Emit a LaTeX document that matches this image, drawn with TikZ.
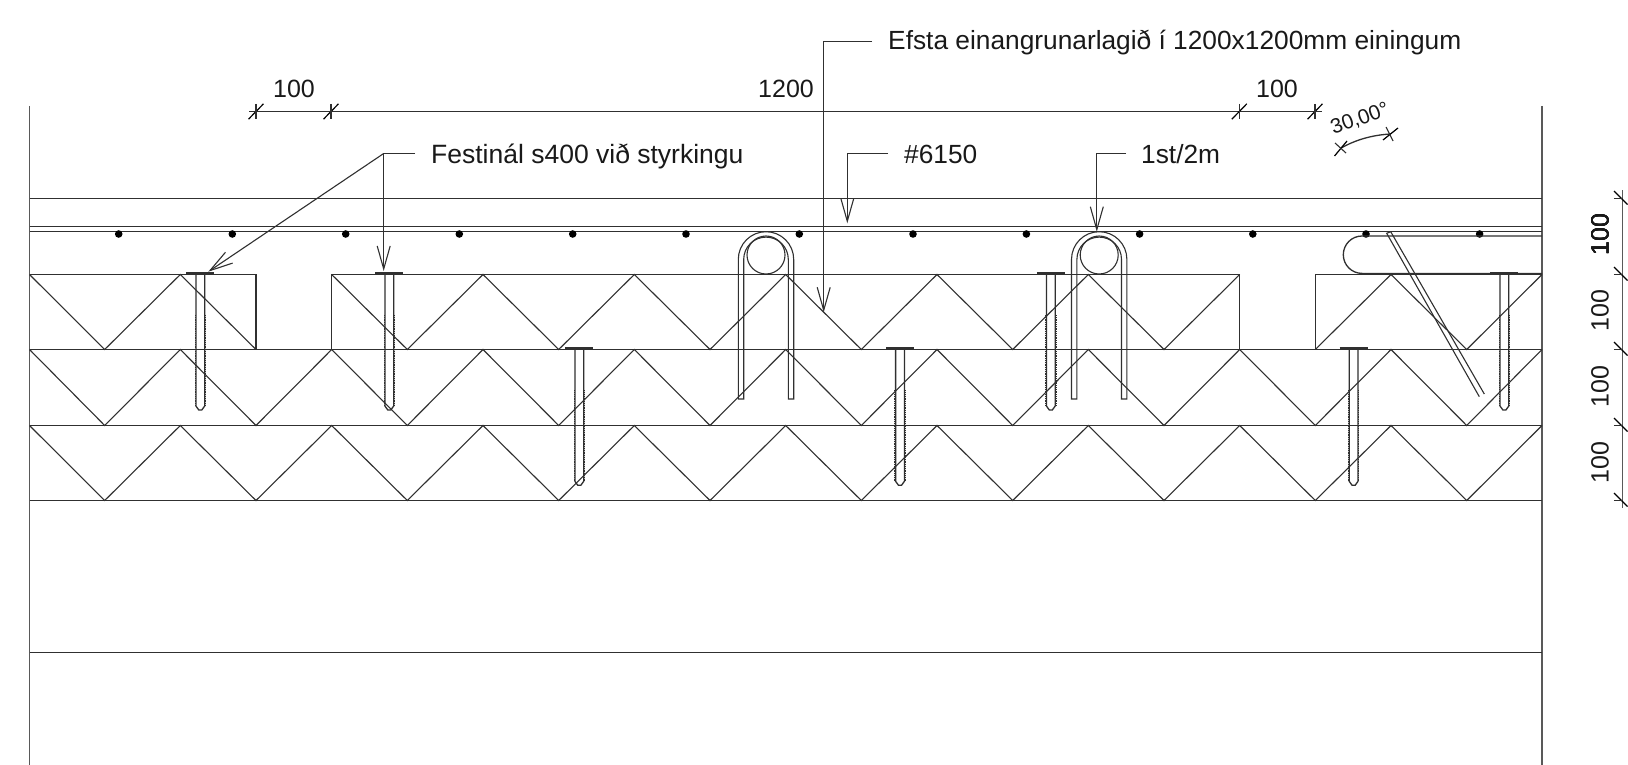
\documentclass[tikz,border=0pt]{standalone}
\usepackage{fontspec}
\setmainfont{Liberation Sans}
\usetikzlibrary{arrows.meta}
\definecolor{ink}{HTML}{303030}
\tikzset{
  x=1pt,y=-1pt,
  ln/.style={draw=ink,line width=1.3pt},
  wall/.style={draw=ink!80,line width=1.8pt},
  thin/.style={draw=ink,line width=1.1pt},
  lead/.style={draw=ink,line width=1.1pt,-{Straight Barb[length=23pt,width=13pt,line width=1.1pt]}},
  leadn/.style={draw=ink,line width=1.1pt},
  lbl/.style={inner sep=0pt,font=\fontsize{25}{25}\selectfont,text=black!90},
  lblw/.style={inner sep=0pt,anchor=west,font=\fontsize{26.3}{26.3}\selectfont,text=black!90},
  dot/.style={circle,fill=black,inner sep=0pt,minimum size=7.6pt},
  tick/.style={draw=black,line width=1.2pt},
  thread/.style={draw=ink,line width=1pt,dash pattern=on 0.9pt off 0.9pt},
}
\newcommand{\fastener}[2]{%
  \draw[line width=2.4pt,draw=ink] (#1-14,#2) -- (#1+14,#2);
  \draw[ln] (#1-4.4,#2) -- (#1-4.4,#2+133) -- (#1-1.5,#2+137) -- (#1+1.5,#2+137) -- (#1+4.4,#2+133) -- (#1+4.4,#2);
  \draw[thread] (#1-5.2,#2+42) -- (#1-5.2,#2+133);
  \draw[thread] (#1+5.2,#2+42) -- (#1+5.2,#2+133);
}
\newcommand{\hairpin}[1]{%
  \draw[thin] (#1-27.7,399) -- (#1-27.7,259.4) arc[start angle=180,end angle=360,radius=27.7] -- (#1+27.7,399) -- (#1+22.3,399) -- (#1+22.3,259.4) arc[start angle=360,end angle=180,radius=22.3] -- (#1-22.3,399) -- cycle;
  \draw[thin] (#1,255) circle[radius=19];
}
\newcommand{\dimtick}[2]{%
  \draw[tick] (#1-7.5,#2+7.7) -- (#1+7.5,#2-7.7);
  \draw[thin] (#1,#2-7.7) -- (#1,#2+7.7);
}
\newcommand{\vtick}[2]{%
  \draw[tick] (#1-7.5,#2-7.5) -- (#1+6,#2+6);
  \draw[thin] (#1-7.7,#2) -- (#1,#2);
}
\begin{document}
\begin{tikzpicture}
\useasboundingbox (0,0) rectangle (1628,765);
\fill[white] (0,0) rectangle (1628,765);
% walls and horizontal layers
\draw[wall] (29.5,106) -- (29.5,765);
\draw[wall] (1542,106) -- (1542,765);
\foreach \yy in {198.5,226.5,231.5,349.5,425.5,500.5,652.5}
  \draw[ln] (29.5,\yy) -- (1542,\yy);
% top insulation edges
\draw[ln] (29.5,274.5) -- (256,274.5) -- (256,349.5);
\draw[ln] (331.7,349.5) -- (331.7,274.5) -- (1239.7,274.5) -- (1239.7,349.5);
\draw[ln] (1315.3,349.5) -- (1315.3,274.5) -- (1542,274.5);
\draw[line width=1.8pt,draw=ink] (256,349.5) -- (331.7,349.5);
\draw[line width=1.8pt,draw=ink] (1239.7,349.5) -- (1315.3,349.5);
% zigzag hatch
\draw[thin] (29.5,274.5) -- (104.7,349.5) -- (180.3,274.5) -- (256,349.5);
\draw[thin] (331.7,274.5) -- (407.3,349.5) -- (483,274.5) -- (558.7,349.5) -- (634.3,274.5) -- (710,349.5) -- (785.7,274.5) -- (861.3,349.5) -- (937,274.5) -- (1012.7,349.5) -- (1088.3,274.5) -- (1164,349.5) -- (1239.7,274.5);
\draw[thin] (1315.3,349.5) -- (1391,274.5) -- (1466.7,349.5) -- (1542,274.5);
\foreach \yy/\yb in {349.5/425.5,425.5/500.5}
  \draw[thin] (29.5,\yy) -- (104.7,\yb) -- (180.3,\yy) -- (256,\yb) -- (331.7,\yy) -- (407.3,\yb) -- (483,\yy) -- (558.7,\yb) -- (634.3,\yy) -- (710,\yb) -- (785.7,\yy) -- (861.3,\yb) -- (937,\yy) -- (1012.7,\yb) -- (1088.3,\yy) -- (1164,\yb) -- (1239.7,\yy) -- (1315.3,\yb) -- (1391,\yy) -- (1466.7,\yb) -- (1542,\yy);
% rebar dots
\foreach \xx [count=\i] in {118.7,232.3,345.7,459.3,572.7,686,799.3,913,1026.4,1139.6,1252.8,1366,1479.6}
  \node[dot] (d\i) at (\xx,234) {};
% hairpins
\hairpin{766}
\hairpin{1099.2}
% bent slab bar
\draw[ln] (1542,236) -- (1362,236) arc[start angle=270,end angle=90,radius=18.7] -- (1542,273.4);
\draw[line width=1.7pt,draw=ink] (1362,273.4) -- (1542,273.4);
% strut
\draw[thin] (1390.7,231.7) -- (1386.7,233.3) -- (1479.3,396.7);
\draw[thin] (1390.7,231.7) -- (1484.3,394);
% fasteners
\fastener{200.3}{273}
\fastener{389.3}{273}
\fastener{579.3}{348.3}
\fastener{900}{348.3}
\fastener{1050.8}{273}
\fastener{1353.6}{348.3}
\fastener{1504.4}{273}
% labels and leaders
\node[lblw] (efsta) at (888,42.5) {Efsta einangrunarlagið í 1200x1200mm einingum};
\coordinate (efstaK) at (823.7,41.5);
\coordinate (efstaT) at (823.7,312.3);
\draw[leadn] (872,41.5) -- (efstaK);
\draw[lead] (efstaK) -- (efstaT);
\node[lblw,font=\fontsize{26.5}{26.5}\selectfont] (fest) at (431,156) {Festinál s400 við styrkingu};
\coordinate (festK) at (383.7,153.5);
\coordinate (festT) at (208.3,271.7);
\coordinate (festU) at (383.7,271);
\draw[leadn] (415,153.5) -- (festK);
\draw[lead] (festK) -- (festT);
\draw[lead] (festK) -- (festU);
\node[lblw] (mesh) at (904,154) {\#6150};
\coordinate (meshK) at (847.3,153.5);
\coordinate (meshT) at (847.3,223.3);
\draw[leadn] (888,153.5) -- (meshK);
\draw[lead] (meshK) -- (meshT);
\node[lblw] (st) at (1141,154) {1st/2m};
\coordinate (stK) at (1096.8,153.5);
\coordinate (stT) at (1096.8,231.7);
\draw[leadn] (1126,153.5) -- (stK);
\draw[lead] (stK) -- (stT);
% top dimension
\draw[thin] (249,111.5) -- (1322,111.5);
\dimtick{256}{111.5}
\dimtick{331}{111.5}
\dimtick{1239.3}{111.5}
\dimtick{1315}{111.5}
\node[lbl] (da) at (294,89) {100};
\node[lbl] (db) at (786,89) {1200};
\node[lbl] (dc) at (1277,89) {100};
% angle
\coordinate (angA) at (1340.7,148.3);
\coordinate (angB) at (1390.7,134);
\draw[ln] (angA) .. controls (1355,140) and (1372,135) .. (angB);
\draw[tick] (1334.5,156) -- (1347,141);
\draw[thin] (1335,143) -- (1346,153);
\draw[tick] (1383,140) -- (1398,128);
\draw[thin] (1386,127) -- (1393,141);
\node[inner sep=0pt,rotate=20,text=black!90,font=\fontsize{20.8}{20.8}\selectfont] (ang) at (1360,119) {30,00°};
% right dimension
\draw[wall,line width=1.4pt] (1622.3,190) -- (1622.3,508);
\foreach \yy in {198.5,274.5,349.5,425.5,500.5}
  \vtick{1621.5}{\yy}
\node[lbl,rotate=90] (va) at (1600,234.4) {100};
\node[lbl,rotate=90] (vb) at (1600,310.7) {100};
\node[lbl,rotate=90] (vc) at (1600,386.3) {100};
\node[lbl,rotate=90] (vd) at (1600,462.7) {100};
\end{tikzpicture}
\end{document}
